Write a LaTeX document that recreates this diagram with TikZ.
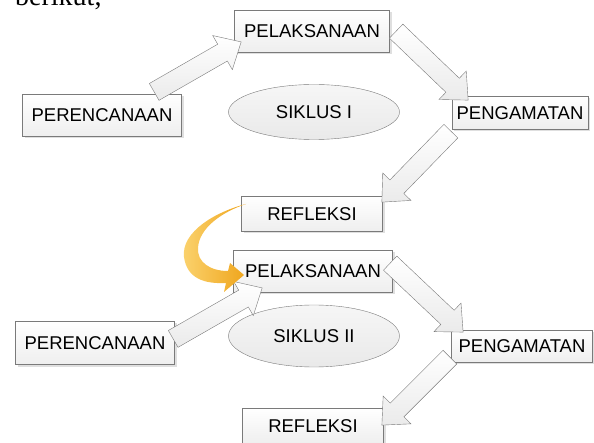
\documentclass[tikz,border=0pt]{standalone}
\usepackage{fontspec}
\setmainfont{Liberation Sans}
\newfontfamily\serifpart{Liberation Serif}
\usepackage{tikz}
\usetikzlibrary{calc, shapes.geometric, shapes.arrows, shadows}
\definecolor{boxLine}{HTML}{7A7A7A}
\definecolor{mOrange}{HTML}{EFA51C}
\definecolor{mOrangeLight}{HTML}{FBD36F}

% wide arrow from one named point to another
\newcommand{\bigarrow}[2]{%
  \path let \p1=($(#2)-(#1)$), \n1={veclen(\x1,\y1)}, \n2={atan2(\y1,\x1)} in
    node[blockarrow, minimum height=\n1, rotate=\n2, anchor=tail] at (#1) {};}

\begin{document}
\begin{tikzpicture}[x=1pt, y=-1pt]
  \tikzstyle{stage}=[draw=boxLine, top color=white, bottom color=gray!13, inner sep=0pt,
    drop shadow={opacity=0.25, shadow xshift=2pt, shadow yshift=-2pt},
    font=\fontsize{18.5}{20}\selectfont, text=black]
  \tikzstyle{cycle}=[ellipse, draw=boxLine, top color=gray!7, bottom color=gray!17,
    minimum width=171pt, font=\fontsize{18.5}{20}\selectfont, text=black]
  \tikzstyle{blockarrow}=[single arrow, draw=boxLine, top color=white, bottom color=gray!16,
    inner xsep=0pt, inner ysep=9.5pt, single arrow head extend=10pt, single arrow tip angle=85]

  \useasboundingbox (0,0) rectangle (594,443);

  % heading text cut by the top edge
  \node[anchor=base west, inner sep=0pt, font=\serifpart\fontsize{28}{30}\selectfont]
    (lead) at (15,6) {berikut,};

  % first cycle
  \node[stage, minimum width=159pt, minimum height=42pt] (perA) at (102,115) {PERENCANAAN};
  \node[stage, minimum width=155pt, minimum height=42pt] (pelA) at (312,31) {PELAKSANAAN};
  \node[stage, minimum width=136pt, minimum height=33pt] (pengA) at (520,113) {PENGAMATAN};
  \node[stage, minimum width=141pt, minimum height=35pt] (refA) at (312,214) {REFLEKSI};
  \node[cycle, minimum height=55pt] (sikA) at (314,112) {SIKLUS I};

  % second cycle
  \node[stage, minimum width=159pt, minimum height=42pt] (pelB) at (313,271) {PELAKSANAAN};
  \node[stage, minimum width=159pt, minimum height=43pt] (perB) at (95,343) {PERENCANAAN};
  \node[stage, minimum width=141pt, minimum height=32pt] (pengB) at (522,346) {PENGAMATAN};
  \node[stage, minimum width=141pt, minimum height=35pt] (refB) at (313,426) {REFLEKSI};
  \node[cycle, minimum height=62pt] (sikB) at (314,336) {SIKLUS II};

  % arrow ends
  \coordinate (a1s) at (154,92);  \coordinate (a1e) at (241,42);
  \coordinate (a2s) at (396,31);  \coordinate (a2e) at (468,100);
  \coordinate (a3s) at (451,131); \coordinate (a3e) at (382,202);
  \coordinate (a4s) at (173,339); \coordinate (a4e) at (262,288);
  \coordinate (a5s) at (390,263); \coordinate (a5e) at (463,332);
  \coordinate (a6s) at (450,357); \coordinate (a6e) at (382,425);

  % connect the stages
  \foreach \from/\to in {a1s/a1e, a2s/a2e, a3s/a3e, a4s/a4e, a5s/a5e, a6s/a6e}
    {\bigarrow{\from}{\to}}

  % curved arrow from the first reflection to the second cycle
  \path[left color=mOrangeLight, right color=mOrange]
    (246,204) .. controls (215,212) and (181,232) .. (184,257)
    .. controls (187,279) and (205,284) .. (226,283)
    -- (224,292) -- (244,275) -- (230,263) -- (228,271)
    .. controls (210,271) and (197,262) .. (198,248)
    .. controls (199,228) and (222,212) .. (246,204) -- cycle;
\end{tikzpicture}
\end{document}
